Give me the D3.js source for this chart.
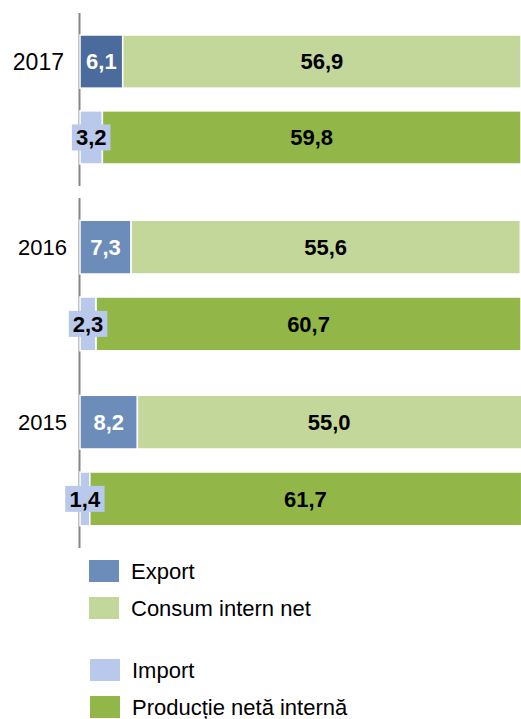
<!DOCTYPE html>
<html>
<head>
<meta charset="utf-8">
<script src="https://cdn.jsdelivr.net/npm/d3@7"></script>
<style>
  body { margin: 0; background: #fff; }
  svg { display: block; font-family: "Liberation Sans", Arial, sans-serif; }
</style>
</head>
<body>
<svg id="chart" width="521" height="719"></svg>
<script>
// data
const years = ['2017', '2016', '2015'];
const exportVals = [6.1, 7.3, 8.2];
const consumVals = [56.9, 55.6, 55.0];
const importVals = [3.2, 2.3, 1.4];
const productieVals = [59.8, 60.7, 61.7];
const seriesNames = ['Export', 'Consum intern net', 'Import', 'Producție netă internă'];

const colors = {
  'Export': '#6c8dba',
  'Consum intern net': '#c4d79b',
  'Import': '#b9c9eb',
  'Producție netă internă': '#92b748'
};
const exportDark = '#4a6b9b'; // the 2017 panel uses a darker blue

const svg = d3.select('svg#chart');
const fmt = d3.formatLocale({ decimal: ',', thousands: '.', grouping: [3], currency: ['', ''] }).format('.1f');

const axisX = 80;
const xScale = d3.scaleLinear()
  .domain([0, 63])
  .range([axisX, 521]);

// the picture is made of two stacked charts: 2017 alone, then 2016 + 2015
const panels = [
  { years: ['2017'], top: 13, bottom: 186, labelX: 64, labelSize: 23 },
  { years: ['2016', '2015'], top: 198, bottom: 548, labelX: 67, labelSize: 22 }
];

const rows = years.map((y, i) => ({
  year: y,
  top: [
    { key: 'Export', x0: 0, x1: exportVals[i] },
    { key: 'Consum intern net', x0: exportVals[i], x1: exportVals[i] + consumVals[i] }
  ],
  bottom: [
    { key: 'Import', x0: 0, x1: importVals[i] },
    { key: 'Producție netă internă', x0: importVals[i], x1: importVals[i] + productieVals[i] }
  ]
}));

panels.forEach(panel => {
  const yScale = d3.scaleBand()
    .domain(panel.years)
    .range([panel.top, panel.bottom]);

  const ySub = d3.scaleBand()
    .domain(['top', 'bottom'])
    .range([0, yScale.bandwidth()])
    .paddingInner(0.3)
    .paddingOuter(0.29);

  const g = svg.append('g');

  // vertical category axis, under the bars and labels
  g.append('line')
    .attr('x1', axisX - 0.5)
    .attr('x2', axisX - 0.5)
    .attr('y1', panel.top)
    .attr('y2', panel.bottom)
    .attr('stroke', '#868686')
    .attr('stroke-width', 2);

  panel.years.forEach(year => {
    const row = rows.find(r => r.year === year);
    const gy = yScale(year);

    ['top', 'bottom'].forEach(pos => {
      const by = gy + ySub(pos);
      const bh = ySub.bandwidth();
      g.append('g').selectAll('rect')
        .data(row[pos])
        .enter()
        .append('rect')
        .attr('x', d => xScale(d.x0))
        .attr('y', by)
        .attr('width', d => xScale(d.x1) - xScale(d.x0))
        .attr('height', bh)
        .attr('fill', d => (d.key === 'Export' && year === '2017') ? exportDark : colors[d.key])
        .attr('stroke', '#fff')
        .attr('stroke-width', 1.5);

      row[pos].forEach(d => {
        const cx = (xScale(d.x0) + Math.min(xScale(d.x1), 521)) / 2;
        const cy = by + bh / 2;
        const t = g.append('text')
          .attr('x', cx)
          .attr('y', cy)
          .attr('dy', '0.36em')
          .attr('text-anchor', 'middle')
          .style('font-size', '22px')
          .style('font-weight', 'bold')
          .style('fill', d.key === 'Export' ? '#fff' : '#000')
          .text(fmt(d.x1 - d.x0));
        if (d.key === 'Import') {
          // import labels sit on their own light blue box
          const bb = t.node().getBBox();
          g.insert('rect', () => t.node())
            .attr('x', cx - bb.width / 2 - 4)
            .attr('y', cy - 13)
            .attr('width', bb.width + 8)
            .attr('height', 26)
            .attr('fill', colors['Import']);
        }
      });
    });

    // year label next to the top bar
    g.append('text')
      .attr('x', panel.labelX)
      .attr('y', gy + ySub('top') + ySub.bandwidth() / 2)
      .attr('dy', '0.36em')
      .attr('text-anchor', 'end')
      .style('font-size', panel.labelSize + 'px')
      .style('fill', '#000')
      .text(year);
  });
});

// legend, also in two parts
const legendGroups = [
  { keys: [seriesNames[0], seriesNames[1]], x: 89, y: 560 },
  { keys: [seriesNames[2], seriesNames[3]], x: 90, y: 659 }
];
legendGroups.forEach(lg => {
  lg.keys.forEach((k, i) => {
    const ly = lg.y + i * 37;
    svg.append('rect')
      .attr('x', lg.x)
      .attr('y', ly)
      .attr('width', 30)
      .attr('height', 22)
      .attr('fill', colors[k]);
    svg.append('text')
      .attr('x', lg.x + 42)
      .attr('y', ly + 11)
      .attr('dy', '0.36em')
      .style('font-size', '22px')
      .style('fill', '#000')
      .text(k);
  });
});
</script>
</body>
</html>
